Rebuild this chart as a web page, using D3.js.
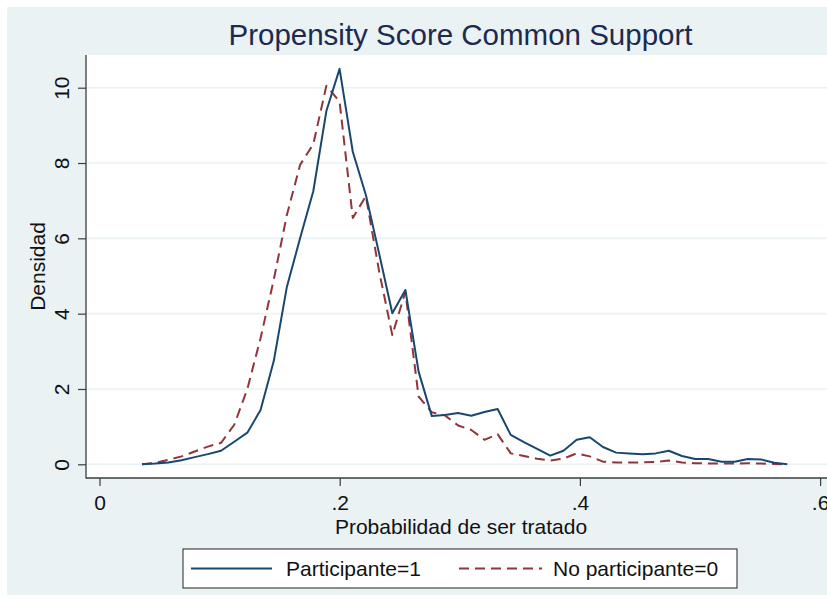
<!DOCTYPE html>
<html>
<head>
<meta charset="utf-8">
<script src="https://cdn.jsdelivr.net/npm/d3@7"></script>
<style>
  html, body { margin: 0; padding: 0; background: #ffffff; }
  svg { display: block; font-family: "Liberation Sans", Arial, sans-serif; }
</style>
</head>
<body>
<svg id="chart" width="827" height="599"></svg>
<script>
// Evaluation grid of the kernel density estimates (propensity score)
const scoreGrid = [
  0.0354, 0.0464, 0.0573, 0.0683, 0.0793, 0.0902, 0.1012, 0.1122, 0.1231, 0.1341,
  0.1451, 0.1560, 0.1670, 0.1780, 0.1889, 0.1999, 0.2109, 0.2218, 0.2328, 0.2438,
  0.2547, 0.2657, 0.2767, 0.2876, 0.2986, 0.3096, 0.3205, 0.3315, 0.3424, 0.3534,
  0.3644, 0.3753, 0.3863, 0.3973, 0.4082, 0.4192, 0.4302, 0.4411, 0.4521, 0.4631,
  0.4740, 0.4850, 0.4960, 0.5069, 0.5179, 0.5289, 0.5398, 0.5508, 0.5618, 0.5727
];

// Density of participants (treated = 1)
const densParticipante = [
  0.00, 0.02, 0.05, 0.11, 0.19, 0.27, 0.36, 0.60, 0.84, 1.44,
  2.74, 4.71, 6.00, 7.25, 9.38, 10.50, 8.30, 7.15, 5.60, 4.01,
  4.63, 2.46, 1.28, 1.31, 1.36, 1.29, 1.39, 1.47, 0.78, 0.59,
  0.41, 0.23, 0.36, 0.65, 0.72, 0.46, 0.31, 0.29, 0.27, 0.29,
  0.36, 0.22, 0.14, 0.14, 0.07, 0.07, 0.14, 0.13, 0.04, 0.00
];

// Density of non-participants (treated = 0)
const densNoParticipante = [
  0.00, 0.04, 0.12, 0.21, 0.34, 0.47, 0.57, 1.05, 2.00, 3.35,
  4.90, 6.62, 7.95, 8.50, 10.05, 9.63, 6.54, 7.12, 5.13, 3.43,
  4.58, 1.80, 1.38, 1.30, 1.03, 0.91, 0.65, 0.80, 0.29, 0.22,
  0.15, 0.10, 0.15, 0.29, 0.21, 0.07, 0.05, 0.05, 0.05, 0.06,
  0.10, 0.05, 0.03, 0.02, 0.02, 0.02, 0.03, 0.02, 0.01, 0.00
];

const xTicks = [0, 0.2, 0.4, 0.6];
const xTickLabels = ["0", ".2", ".4", ".6"];
const yTicks = [0, 2, 4, 6, 8, 10];

const titleText = "Propensity Score Common Support";
const xTitle = "Probabilidad de ser tratado";
const yTitle = "Densidad";
const seriesNames = ["Participante=1", "No participante=0"];

const BG = "#eaf2f3";
const NAVY = "#1a476f";
const MAROON = "#90353b";

const svg = d3.select("#chart");

// Outer graph region
svg.append("rect").attr("x", 7).attr("y", 7).attr("width", 830).attr("height", 588)
  .attr("fill", BG);

// Plot region
const plot = { left: 86, top: 55, right: 840, bottom: 478 };
svg.append("rect")
  .attr("x", plot.left).attr("y", plot.top)
  .attr("width", plot.right - plot.left).attr("height", plot.bottom - plot.top)
  .attr("fill", "#ffffff");

const x = d3.scaleLinear().domain([0, 0.6]).range([99.5, 820.1]);
const y = d3.scaleLinear().domain([0, 10]).range([464.3, 87.7]);

// Horizontal grid lines
svg.append("g").selectAll("line").data(yTicks).join("line")
  .attr("x1", plot.left + 1).attr("x2", plot.right)
  .attr("y1", d => y(d)).attr("y2", d => y(d))
  .attr("stroke", BG).attr("stroke-width", 1.6);

// Y axis
const yAxis = svg.append("g")
  .attr("transform", `translate(${plot.left},0)`)
  .call(d3.axisLeft(y).tickValues(yTicks).tickSize(8).tickSizeOuter(0).tickFormat(d3.format("d")));
yAxis.select(".domain").remove();
yAxis.append("line").attr("x1", 0).attr("x2", 0).attr("y1", plot.top).attr("y2", plot.bottom + 0.5)
  .attr("stroke", "#3c3c3c").attr("stroke-width", 1.3);
yAxis.selectAll(".tick line").attr("stroke", "#3c3c3c").attr("stroke-width", 1.2);
yAxis.selectAll(".tick text")
  .attr("x", 0).attr("y", -17).attr("dy", 0)
  .attr("transform", "rotate(-90)")
  .attr("text-anchor", "middle")
  .attr("fill", "#111").style("font-size", "21px")
  .style("font-family", "'Liberation Sans', Arial, sans-serif");

// X axis
const xAxis = svg.append("g")
  .attr("transform", `translate(0,${plot.bottom})`)
  .call(d3.axisBottom(x).tickValues(xTicks).tickSize(8).tickSizeOuter(0)
    .tickFormat((d, i) => xTickLabels[i]));
xAxis.select(".domain").remove();
xAxis.append("line").attr("x1", plot.left).attr("x2", plot.right).attr("y1", 0).attr("y2", 0)
  .attr("stroke", "#3c3c3c").attr("stroke-width", 1.3);
xAxis.selectAll(".tick line").attr("stroke", "#3c3c3c").attr("stroke-width", 1.2);
xAxis.selectAll(".tick text")
  .attr("y", 32).attr("dy", 0)
  .attr("fill", "#111").style("font-size", "21px")
  .style("font-family", "'Liberation Sans', Arial, sans-serif");

// Density curves
const line = d3.line().x((d, i) => x(scoreGrid[i])).y(d => y(d));

svg.append("path").datum(densNoParticipante)
  .attr("d", line).attr("fill", "none")
  .attr("stroke", MAROON).attr("stroke-width", 2)
  .attr("stroke-dasharray", "10,6")
  .attr("stroke-linejoin", "round");

svg.append("path").datum(densParticipante)
  .attr("d", line).attr("fill", "none")
  .attr("stroke", NAVY).attr("stroke-width", 2)
  .attr("stroke-linejoin", "round");

// Titles
svg.append("text").attr("x", 460.5).attr("y", 45)
  .attr("text-anchor", "middle").attr("fill", "#1c2a50")
  .style("font-size", "29.5px").text(titleText);

svg.append("text").attr("x", 461).attr("y", 534)
  .attr("text-anchor", "middle").attr("fill", "#111")
  .style("font-size", "21px").text(xTitle);

svg.append("text")
  .attr("transform", "translate(45,266.5) rotate(-90)")
  .attr("text-anchor", "middle").attr("fill", "#111")
  .style("font-size", "21px").text(yTitle);

// Legend
const legend = svg.append("g");
legend.append("rect").attr("x", 183).attr("y", 549).attr("width", 554).attr("height", 39)
  .attr("fill", "#ffffff").attr("stroke", "#222").attr("stroke-width", 1);

const legendItems = [
  { name: seriesNames[0], color: NAVY, dash: null, x0: 191, x1: 272, tx: 286 },
  { name: seriesNames[1], color: MAROON, dash: "10,6", x0: 459, x1: 542, tx: 553 }
];
legendItems.forEach(it => {
  legend.append("line").attr("x1", it.x0).attr("x2", it.x1).attr("y1", 568.5).attr("y2", 568.5)
    .attr("stroke", it.color).attr("stroke-width", 2)
    .attr("stroke-dasharray", it.dash);
  legend.append("text").attr("x", it.tx).attr("y", 576)
    .attr("fill", "#111").style("font-size", "21px").text(it.name);
});
</script>
</body>
</html>
